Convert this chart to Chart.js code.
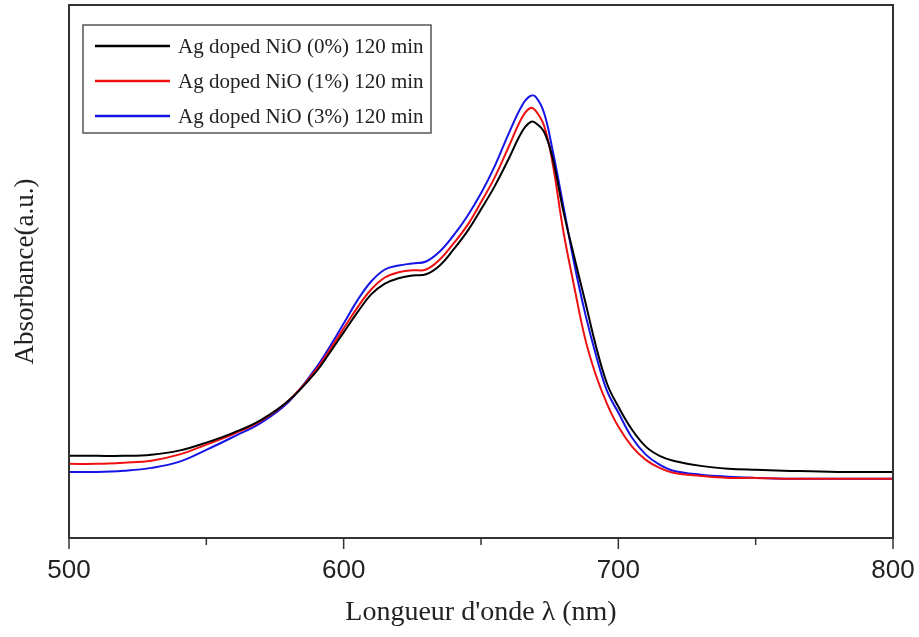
<!DOCTYPE html>
<html><head><meta charset="utf-8">
<script src="https://cdn.jsdelivr.net/npm/chart.js@4"></script>
<style>html,body{margin:0;padding:0;background:#fff}#wrap{width:919px;height:637px}</style>
</head><body><div id="wrap"><canvas id="c" width="919" height="637"></canvas></div>
<script>
const wavelengths = [500,510,520,530,540,550,560,570,580,590,595,600,605,610,615,620,625,630,635,640,645,650,655,660,665,668,670,673,676,680,684,688,692,696,700,705,710,715,720,730,740,750,760,780,800];
const abs0pct = [0.205,0.205,0.205,0.208,0.218,0.238,0.263,0.295,0.343,0.415,0.463,0.513,0.563,0.608,0.635,0.648,0.655,0.658,0.680,0.720,0.765,0.820,0.878,0.945,1.015,1.038,1.035,1.013,0.950,0.815,0.700,0.588,0.475,0.383,0.328,0.270,0.228,0.205,0.193,0.180,0.173,0.170,0.168,0.165,0.165];
const abs1pct = [0.185,0.185,0.188,0.193,0.208,0.233,0.260,0.293,0.343,0.420,0.470,0.523,0.575,0.620,0.650,0.663,0.668,0.670,0.695,0.735,0.780,0.838,0.900,0.975,1.050,1.073,1.065,1.028,0.938,0.765,0.625,0.495,0.403,0.333,0.278,0.228,0.195,0.175,0.163,0.155,0.150,0.150,0.148,0.148,0.148];
const abs3pct = [0.165,0.165,0.168,0.175,0.190,0.220,0.253,0.288,0.340,0.425,0.478,0.535,0.593,0.640,0.670,0.680,0.685,0.690,0.715,0.755,0.803,0.860,0.928,1.008,1.080,1.103,1.100,1.060,0.970,0.828,0.683,0.558,0.453,0.365,0.313,0.250,0.208,0.183,0.168,0.158,0.153,0.150,0.148,0.148,0.148];
const seriesLabels = ['Ag doped NiO (0%) 120 min','Ag doped NiO (1%) 120 min','Ag doped NiO (3%) 120 min'];
const seriesColors = ['#000000','#ee1010','#1414e6'];
const majorTicks = [500,600,700,800];
const minorTicks = [550,650,750];
const xTitle = "Longueur d'onde \u03bb (nm)";
const yTitle = 'Absorbance(a.u.)';

const seriesValues = [abs0pct, abs1pct, abs3pct];
const datasets = seriesValues.map((vals, i) => ({
  label: seriesLabels[i],
  data: wavelengths.map((w, j) => ({x: w, y: vals[j]})),
  borderColor: seriesColors[i],
  borderWidth: 2,
  pointRadius: 0,
  fill: false,
  tension: 0.4
}));

const framePlugin = {
  id: 'frame',
  afterDraw(chart) {
    const {ctx, chartArea: a, scales: {x}} = chart;
    ctx.save();
    ctx.strokeStyle = '#333';
    ctx.lineWidth = 2;
    ctx.strokeRect(a.left, a.top, a.right - a.left, a.bottom - a.top);
    ctx.lineWidth = 1.5;
    majorTicks.forEach(v => {
      const px = x.getPixelForValue(v);
      ctx.beginPath(); ctx.moveTo(px, a.bottom); ctx.lineTo(px, a.bottom + 11); ctx.stroke();
    });
    minorTicks.forEach(v => {
      const px = x.getPixelForValue(v);
      ctx.beginPath(); ctx.moveTo(px, a.bottom); ctx.lineTo(px, a.bottom + 7); ctx.stroke();
    });
    // legend
    const bx = 83, by = 25, bw = 348, bh = 108;
    ctx.lineWidth = 1.5;
    ctx.strokeStyle = '#555';
    ctx.strokeRect(bx, by, bw, bh);
    ctx.font = '21px "Liberation Serif"';
    ctx.textBaseline = 'middle';
    ctx.fillStyle = '#222';
    chart.data.datasets.forEach((ds, i) => {
      const yy = by + 21 + i * 35;
      ctx.strokeStyle = ds.borderColor;
      ctx.lineWidth = 2.5;
      ctx.beginPath(); ctx.moveTo(95, yy); ctx.lineTo(170, yy); ctx.stroke();
      ctx.fillText(ds.label, 178, yy + 1);
    });
    ctx.restore();
  }
};

new Chart(document.getElementById('c'), {
  type: 'line',
  data: {datasets},
  options: {
    responsive: false,
    animation: false,
    devicePixelRatio: 1,
    layout: {padding: {top: 5, right: 26, left: 0, bottom: 0}},
    plugins: {legend: {display: false}, tooltip: {enabled: false}},
    scales: {
      x: {
        type: 'linear', min: 500, max: 800,
        grid: {display: false},
        border: {display: false},
        ticks: {stepSize: 100, font: {family: '"Liberation Sans"', size: 26}, color: '#222', padding: 9, maxRotation: 0},
        title: {display: true, text: xTitle, font: {family: '"Liberation Serif"', size: 28}, color: '#222', padding: {top: 0, bottom: 8}},
        afterFit(s) { s.height = 99; s.paddingLeft = 0; s.paddingRight = 0; }
      },
      y: {
        type: 'linear', min: 0, max: 1.33,
        grid: {display: false},
        border: {display: false},
        ticks: {display: false},
        title: {display: true, text: yTitle, font: {family: '"Liberation Serif"', size: 27}, color: '#222', padding: {top: 10, bottom: 0}},
        afterFit(s) { s.width = 69; }
      }
    }
  },
  plugins: [framePlugin]
});
</script>
</body></html>
